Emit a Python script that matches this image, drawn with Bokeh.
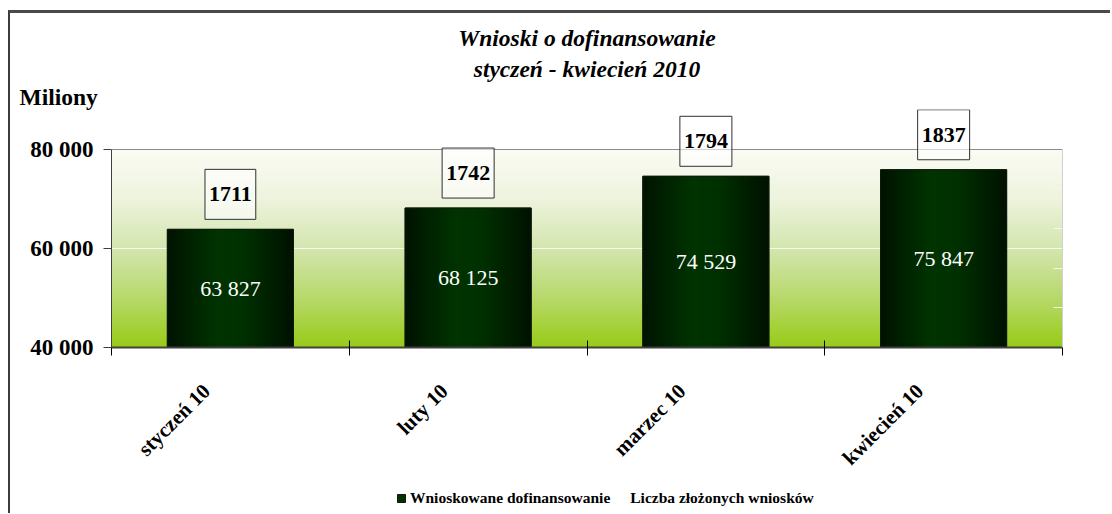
import math
import numpy as np
from bokeh.plotting import figure
from bokeh.layouts import column
from bokeh.models import (Range1d, FixedTicker, LinearAxis, Label, Legend, LegendItem,
                          Title, CustomJSTickFormatter, Grid)
from bokeh.core.properties import value
from bokeh.embed import file_html
from bokeh.resources import INLINE

# ---------------- data ----------------
categories = ["styczeń 10", "luty 10", "marzec 10", "kwiecień 10"]
amounts = [63827, 68125, 74529, 75847]      # Wnioskowane dofinansowanie (miliony)
counts = [1711, 1742, 1794, 1837]           # Liczba złożonych wniosków
y_ticks = [40000, 60000, 80000]
y_tick_labels = ["40 000", "60 000", "80 000"]
count_ticks = [400, 800, 1200, 1600]

title_line1 = "Wnioski o dofinansowanie"
title_line2 = "styczeń - kwiecień 2010"
unit_label = "Miliony"
series_names = ["Wnioskowane dofinansowanie", "Liczba złożonych wniosków"]

# ---------------- derived / style ----------------
xs = [i + 0.5 for i in range(len(categories))]
amount_labels = [f"{a:,}".replace(",", " ") for a in amounts]
Y_MIN, Y_MAX, Y_VIEW_TOP = 40000, 80000, 88000
C_MIN, C_MAX, C_VIEW_TOP = 0, 2000, 2400
BAR_W = 0.53
LABEL_SHIFT = -0.1
FONT = "Liberation Serif"
BAR_FILL = "#003300"
BAR_LINE = "#0d1a0d"

p = figure(width=1100, height=472,
           x_range=Range1d(0, len(categories)), y_range=Range1d(Y_MIN, Y_VIEW_TOP),
           output_backend="svg", toolbar_location=None,
           min_border_left=101, min_border_right=48, min_border_top=96, min_border_bottom=138)
p.background_fill_color = "white"
p.border_fill_color = "white"
p.outline_line_color = None


def vgrad(n, stops, cols):
    t = np.linspace(0, 1, n)
    img = np.empty((n, 1), dtype=np.uint32)
    v = img.view(dtype=np.uint8).reshape((n, 1, 4))
    for k in range(3):
        v[:, 0, k] = np.interp(t, stops, [c[k] for c in cols]).astype(np.uint8)
    v[:, 0, 3] = 255
    return img


def hgrad(n, stops, cols):
    t = np.linspace(0, 1, n)
    img = np.empty((1, n), dtype=np.uint32)
    v = img.view(dtype=np.uint8).reshape((1, n, 4))
    for k in range(3):
        v[0, :, k] = np.interp(t, stops, [c[k] for c in cols]).astype(np.uint8)
    v[0, :, 3] = 255
    return img


# plot-area gradient
bg = vgrad(256, [0, 0.25, 0.5, 0.75, 1],
           [(152, 204, 24), (184, 217, 108), (212, 230, 175), (238, 244, 222), (251, 252, 245)])
p.image_rgba(image=[bg], x=0, y=Y_MIN, dw=len(categories), dh=Y_MAX - Y_MIN, level="image")

p.xgrid.visible = False
p.ygrid.ticker = FixedTicker(ticks=[60000])
p.ygrid.grid_line_color = "#f6f9ee"
p.ygrid.grid_line_width = 1
top_grid = Grid(dimension=1, ticker=FixedTicker(ticks=[Y_MAX]),
                grid_line_color="#8c8c8c", grid_line_width=1)
p.add_layout(top_grid)

# bars
p.vbar(x=xs, top=amounts, bottom=Y_MIN, width=BAR_W,
       fill_color=BAR_FILL, line_color=BAR_LINE, line_width=1)
bar_img = hgrad(64, [0, 0.12, 0.4, 0.62, 0.88, 1],
                [(0, 20, 0), (0, 30, 0), (0, 52, 0), (0, 48, 0), (0, 28, 0), (0, 18, 0)])
p.image_rgba(image=[bar_img] * len(amounts),
             x=[x - BAR_W / 2 for x in xs], y=[Y_MIN] * len(amounts),
             dw=[BAR_W] * len(amounts), dh=[a - Y_MIN for a in amounts])
p.vbar(x=xs, top=amounts, bottom=Y_MIN, width=BAR_W,
       fill_color=None, line_color=BAR_LINE, line_width=1)

p.text(x=xs, y=[(Y_MIN + a) / 2 for a in amounts], text=amount_labels,
       text_align="center", text_baseline="middle", text_color="white",
       text_font=value(FONT), text_font_size="22px")

# secondary (hidden) series: number of applications
p.extra_y_ranges = {"counts": Range1d(C_MIN, C_VIEW_TOP)}
p.line(x=xs, y=counts, y_range_name="counts", line_alpha=0)
raxis = LinearAxis(y_range_name="counts", ticker=FixedTicker(ticks=count_ticks),
                   formatter=CustomJSTickFormatter(code="return ''"), bounds=(C_MIN, C_MAX))
raxis.major_tick_in = 9
raxis.major_tick_out = 0
raxis.major_tick_line_color = "#f4f4f4"
raxis.minor_tick_line_color = None
raxis.axis_line_color = "#d0d0d0"
p.add_layout(raxis, "right")

for x, a, c in zip(xs, amounts, counts):
    p.add_layout(Label(x=x, y=a, y_offset=35, text=str(c),
                       text_align="center", text_baseline="middle",
                       text_font=FONT, text_font_style="bold", text_font_size="22px",
                       text_color="black", border_line_color="#303030", border_line_width=1,
                       background_fill_color="white", background_fill_alpha=0.6,
                       padding=(4, 18)))

# axes
label_pos = [x + LABEL_SHIFT for x in xs]
xa = p.xaxis[0]
xa.ticker = FixedTicker(ticks=label_pos, minor_ticks=list(range(len(categories) + 1)))
xa.major_label_overrides = {x: c for x, c in zip(label_pos, categories)}
xa.major_label_orientation = math.pi / 4
xa.major_label_text_font = FONT
xa.major_label_text_font_style = "bold"
xa.major_label_text_font_size = "21px"
xa.major_label_text_color = "black"
xa.major_label_standoff = 32
xa.major_tick_line_color = None
xa.major_tick_in = 0
xa.major_tick_out = 8
xa.minor_tick_in = 7
xa.minor_tick_out = 8
xa.minor_tick_line_color = "black"
xa.axis_line_color = "#404040"
xa.axis_line_width = 2

ya = p.yaxis[0]
ya.bounds = (Y_MIN, Y_MAX)
ya.ticker = FixedTicker(ticks=y_ticks)
ya.major_label_overrides = {t: l for t, l in zip(y_ticks, y_tick_labels)}
ya.major_label_text_font = FONT
ya.major_label_text_font_style = "bold"
ya.major_label_text_font_size = "23px"
ya.major_label_text_color = "black"
ya.major_label_standoff = 10
ya.major_tick_in = 0
ya.major_tick_out = 8
ya.major_tick_line_color = "#404040"
ya.minor_tick_line_color = None
ya.axis_line_color = "#404040"

# titles (first added = closest to frame)
p.add_layout(Title(text=unit_label, align="left", offset=-92, standoff=0, text_color="black",
                   text_font=FONT, text_font_style="bold", text_font_size="23.5px"), "above")
p.add_layout(Title(text=title_line2, align="center", standoff=0, text_color="black",
                   text_font=FONT, text_font_style="bold italic", text_font_size="23.5px"), "above")
p.add_layout(Title(text=title_line1, align="center", standoff=6, text_color="black",
                   text_font=FONT, text_font_style="bold italic", text_font_size="23.5px"), "above")

# legend strip (separate small figure so it is not clipped by the plot frame)
lg = figure(width=1100, height=28, x_range=Range1d(0, 1), y_range=Range1d(0, 1),
            x_axis_type=None, y_axis_type=None, output_backend="svg", toolbar_location=None,
            min_border=0)
lg.outline_line_color = None
lg.grid.visible = False
lg.background_fill_color = "white"
lg.border_fill_color = "white"
# legend-only renderers, placed below the strip's visible range
lr1 = lg.vbar(x=[0.5], top=[-2], bottom=[-3], width=0.1, fill_color=BAR_FILL, line_color=BAR_LINE)
lr2 = lg.line(x=[0.2, 0.8], y=[-5, -5], line_alpha=0)
legend = Legend(items=[LegendItem(label=series_names[0], renderers=[lr1]),
                       LegendItem(label=series_names[1], renderers=[lr2])],
                orientation="horizontal", location=(285, 6),
                border_line_color=None, background_fill_alpha=0,
                label_text_font=FONT, label_text_font_style="bold", label_text_font_size="15.5px",
                label_text_color="black",
                glyph_width=10, glyph_height=10, label_height=10, label_standoff=4,
                spacing=6, padding=0, margin=0)
lg.add_layout(legend)

layout = column(p, lg, spacing=0,
                styles={"margin-left": "8px", "margin-top": "10px",
                        "border-left": "2px solid #3c3c3c", "border-top": "3px solid #4a4a4a"})

open("out.html", "w").write(file_html(layout, INLINE))
